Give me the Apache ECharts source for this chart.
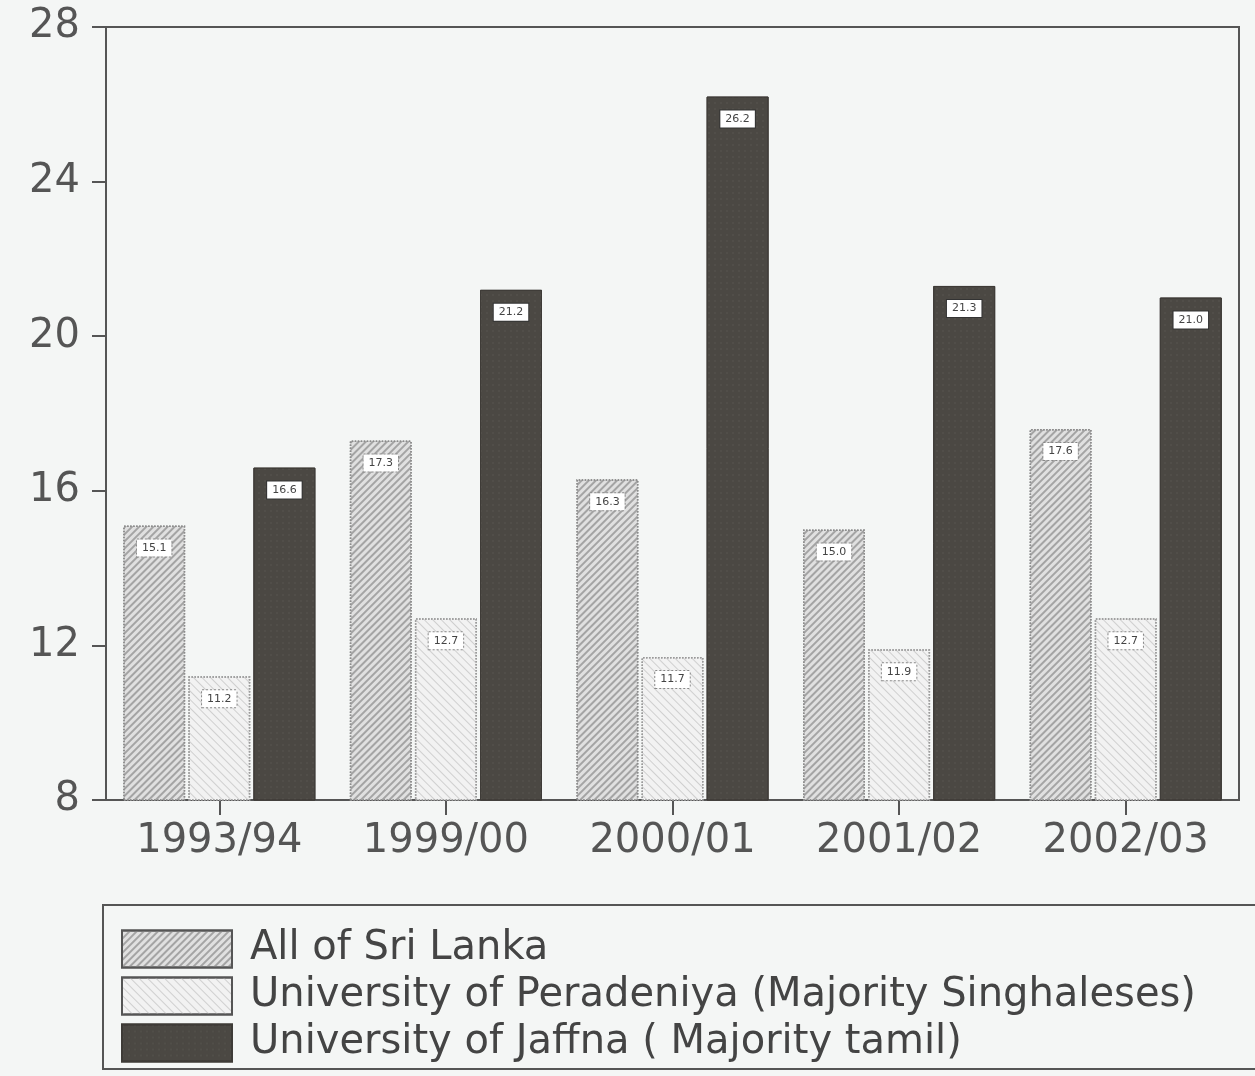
<!DOCTYPE html>
<html>
<head>
<meta charset="utf-8">
<script src="https://cdn.jsdelivr.net/npm/echarts@6/dist/echarts.min.js"></script>
<style>
html,body{margin:0;padding:0;background:#f4f6f5;}
#chart{width:1255px;height:1076px;}
</style>
</head>
<body>
<div id="chart"></div>
<script>
var categories = ['1993/94', '1999/00', '2000/01', '2001/02', '2002/03'];
var seriesNames = [
  'All of Sri Lanka',
  'University of Peradeniya (Majority Singhaleses)',
  'University of Jaffna ( Majority tamil)'
];
var allSriLanka = [15.1, 17.3, 16.3, 15.0, 17.6];
var peradeniya = [11.2, 12.7, 11.7, 11.9, 12.7];
var jaffna = [16.6, 21.2, 26.2, 21.3, 21.0];
var yTicks = [8, 12, 16, 20, 24, 28];

var FONT = 'DejaVu Sans';
var chart = echarts.init(document.getElementById('chart'), null, {renderer: 'canvas'});

var styles = [
  {
    color: '#e0e0e0', borderColor: '#8c8c8c', borderWidth: 1.5, borderType: 'dotted',
    decal: {symbol: 'rect', dashArrayX: [1, 0], dashArrayY: [2, 3], rotation: -0.785, color: '#a4a4a4'}
  },
  {
    color: '#f2f2f2', borderColor: '#9a9a9a', borderWidth: 1.5, borderType: 'dotted',
    decal: {symbol: 'rect', dashArrayX: [1, 0], dashArrayY: [1, 5], rotation: 0.785, color: '#cfcfcf'}
  },
  {
    color: '#4b4843', borderColor: '#3e3b37', borderWidth: 1,
    decal: {symbol: 'rect', symbolSize: 0.5, dashArrayX: [[2, 4]], dashArrayY: [2, 4], color: '#66625b'}
  }
];
var legendBorders = ['#555', '#555', '#3e3b37'];
var dataSets = [allSriLanka, peradeniya, jaffna];

var series = dataSets.map(function (d, i) {
  return {
    name: seriesNames[i],
    type: 'bar',
    data: d,
    barWidth: 62,
    barGap: '5%',
    itemStyle: styles[i],
    label: {
      show: true,
      position: 'insideTop',
      distance: 14,
      formatter: function (p) { return p.value.toFixed(1); },
      fontFamily: FONT,
      fontSize: 11,
      color: '#444',
      backgroundColor: '#ffffff',
      borderColor: i === 2 ? '#333' : '#888',
      borderWidth: 1,
      borderType: i === 2 ? 'solid' : 'dotted',
      padding: [3, 5]
    }
  };
});

var option = {
  backgroundColor: '#f4f6f5',
  animation: false,
  grid: {
    left: 106, right: 16, top: 27, bottom: 276,
    show: true, borderColor: '#555', borderWidth: 2, backgroundColor: 'transparent'
  },
  legend: {
    orient: 'vertical',
    left: 103, top: 905,
    height: 300,
    padding: [24, 200, 6, 18],
    icon: 'rect',
    itemWidth: 110, itemHeight: 37, itemGap: 7,
    borderColor: '#555', borderWidth: 2,
    textStyle: {fontFamily: FONT, fontSize: 40, lineHeight: 36, color: '#444', padding: [0, 0, 0, 13]},
    data: seriesNames.map(function (n, i) {
      return {name: n, itemStyle: {borderColor: legendBorders[i], borderWidth: 2, borderType: 'solid'}};
    })
  },
  xAxis: {
    type: 'category',
    data: categories,
    axisLine: {lineStyle: {color: '#555', width: 2}},
    axisTick: {show: true, alignWithLabel: true, length: 15, inside: false, lineStyle: {color: '#555', width: 2}},
    axisLabel: {fontFamily: FONT, fontSize: 40, color: '#555', margin: 22}
  },
  yAxis: {
    type: 'value',
    min: yTicks[0], max: yTicks[yTicks.length - 1], interval: 4,
    splitLine: {show: false},
    axisLine: {show: true, lineStyle: {color: '#555', width: 2}},
    axisTick: {show: true, length: 14, lineStyle: {color: '#555', width: 2}},
    axisLabel: {fontFamily: FONT, fontSize: 40, color: '#555', margin: 26}
  },
  series: series
};
chart.setOption(option);
</script>
</body>
</html>
